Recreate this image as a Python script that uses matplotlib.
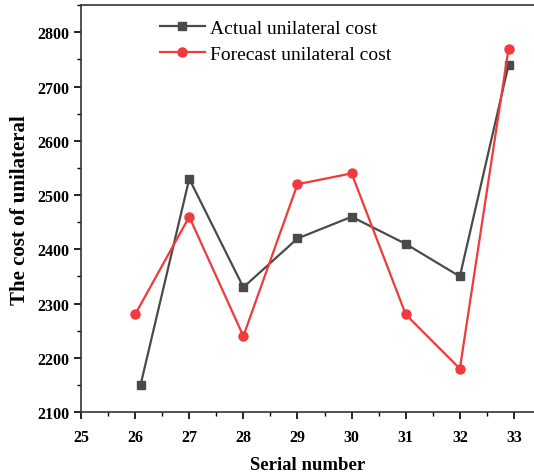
import matplotlib.pyplot as plt
from matplotlib.ticker import MultipleLocator

plt.rcParams['font.family'] = ['Liberation Serif', 'DejaVu Serif']

# data
x_actual = [26.1, 27, 28, 29, 30, 31, 32, 32.9]
actual = [2150, 2530, 2330, 2420, 2460, 2410, 2350, 2740]
x_forecast = [26, 27, 28, 29, 30, 31, 32, 32.9]
forecast = [2280, 2460, 2240, 2520, 2540, 2280, 2180, 2770]

fig = plt.figure(figsize=(5.34, 4.77), dpi=100)
ax = fig.add_axes([0.1517, 0.134, 0.8483, 0.853])

ax.plot(x_actual, actual, color='#4a4a4a', marker='s', markersize=6, lw=1.6,
        label='Actual unilateral cost')
ax.plot(x_forecast, forecast, color='#f03a3d', marker='o', markersize=6.5, lw=1.6,
        label='Forecast unilateral cost')

ax.set_xlim(25, 33.37)
ax.set_ylim(2100, 2850)
ax.xaxis.set_major_locator(MultipleLocator(1))
ax.xaxis.set_minor_locator(MultipleLocator(0.5))
ax.yaxis.set_major_locator(MultipleLocator(100))
ax.yaxis.set_minor_locator(MultipleLocator(50))
ax.set_yticks([2100, 2200, 2300, 2400, 2500, 2600, 2700, 2800])

ax.spines['right'].set_visible(False)
for s in ['left', 'bottom', 'top']:
    ax.spines[s].set_linewidth(1.2)
    ax.spines[s].set_color('#333333')
ax.tick_params(which='major', direction='out', length=5, width=1.2, labelsize=11.5)
ax.tick_params(axis='x', which='major', pad=7)
ax.tick_params(which='minor', direction='out', length=3, width=1.0)
for lab in ax.get_xticklabels() + ax.get_yticklabels():
    lab.set_fontweight('bold')

ax.set_xlabel('Serial number', fontsize=13.5, fontweight='bold')
ax.set_ylabel('The cost of unilateral', fontsize=15, fontweight='bold')
ax.xaxis.set_label_coords(0.5, -0.108)
ax.yaxis.set_label_coords(-0.112, 0.5)

ax.legend(loc='upper left', bbox_to_anchor=(0.157, 0.985), borderaxespad=0,
          frameon=False, fontsize=14, handlelength=2.3, handletextpad=0.26,
          labelspacing=0.45)

fig.savefig('out.png', dpi=100)
